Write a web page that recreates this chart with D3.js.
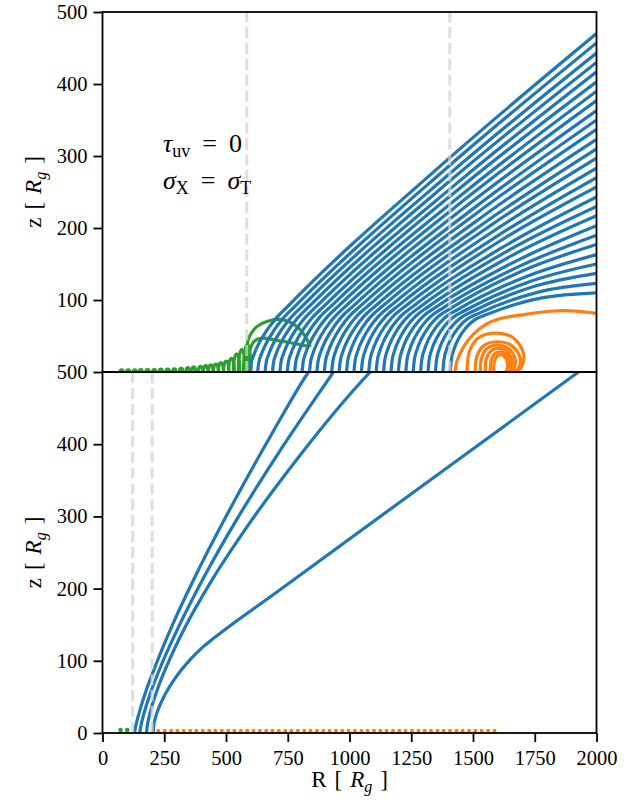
<!DOCTYPE html>
<html><head><meta charset="utf-8">
<script src="https://cdn.jsdelivr.net/npm/d3@7"></script>
<style>
body{margin:0;background:#fff}
svg{display:block}
text{font-family:"Liberation Serif","DejaVu Serif",serif;fill:#000;white-space:pre}
</style>
</head><body>
<svg id="c" width="643" height="806"></svg>
<script>
// ---------------- data ----------------
const xTicks = [0,250,500,750,1000,1250,1500,1750,2000];
const yTicksTop = [100,200,300,400,500];
const yTicksBottom = [0,100,200,300,400,500];
const dashedTopR = [584, 1406];
const dashedBottomR = [122, 201];

// top panel: escaping streamlines (blue), points [R, z]
const topWindLines = [
 [[598,0],[602,11.5],[613,24.1],[633,39.5],[663,56.8],[698,72.7],[748,90.5],[1374,288],[2000,470]],
 [[628,0],[632,11.7],[643,24.5],[663,40],[693,57.3],[728,73.3],[778,90.8],[1389,282],[2000,457]],
 [[658,0],[662,11.9],[673,24.8],[693,40.4],[723,57.8],[758,73.7],[808,91.2],[1404,275],[2000,443]],
 [[688,0],[692,12.1],[703,25.2],[723,40.9],[753,58.3],[788,74.2],[838,91.5],[1419,269],[2000,430]],
 [[718,0],[722,12.3],[733,25.5],[753,41.4],[783,58.8],[818,74.6],[868,91.8],[1434,262],[2000,417]],
 [[748,0],[752,12.5],[763,25.8],[783,41.7],[813,59.2],[848,75],[898,91.9],[1449,256],[2000,403]],
 [[778,0],[782,12.7],[793,26.3],[813,42.2],[843,59.8],[878,75.5],[928,92.3],[1464,249],[2000,390]],
 [[808,0],[812,12.9],[823,26.6],[843,42.7],[873,60.2],[908,75.9],[958,92.5],[1479,243],[2000,377]],
 [[838,0],[842,13.1],[853,26.8],[873,43],[903,60.6],[938,76.1],[988,92.5],[1494,236],[2000,363]],
 [[868,0],[872,13.2],[883,27.1],[903,43.4],[933,60.9],[968,76.5],[1018,92.6],[1509,229],[2000,350]],
 [[898,0],[902,13.4],[913,27.5],[933,43.9],[963,61.4],[998,76.9],[1048,92.8],[1524,223],[2000,337]],
 [[928,0],[932,13.6],[943,27.8],[963,44.1],[993,61.7],[1028,77.1],[1078,92.7],[1539,216],[2000,323]],
 [[958,0],[962,13.8],[973,28.2],[993,44.5],[1023,62],[1058,77.3],[1108,92.7],[1554,209],[2000,310]],
 [[988,0],[992,14],[1003,28.5],[1023,44.9],[1053,62.4],[1088,77.5],[1138,92.6],[1569,203],[2000,297]],
 [[1018,0],[1022,14.2],[1033,28.7],[1053,45.2],[1083,62.7],[1118,77.6],[1168,92.4],[1584,196],[2000,283]],
 [[1048,0],[1052,14.4],[1063,29],[1083,45.6],[1113,62.9],[1148,77.7],[1198,92.2],[1599,189],[2000,270]],
 [[1078,0],[1082,14.6],[1093,29.3],[1113,45.9],[1143,63.2],[1178,77.8],[1228,91.9],[1614,183],[2000,257]],
 [[1108,0],[1112,14.7],[1123,29.6],[1143,46.2],[1173,63.3],[1208,77.6],[1258,91.4],[1629,175],[2000,243]],
 [[1138,0],[1142,14.9],[1153,29.8],[1173,46.4],[1203,63.5],[1238,77.7],[1288,91],[1644,169],[2000,230]],
 [[1168,0],[1172,15],[1183,30.1],[1203,46.7],[1233,63.7],[1268,77.6],[1318,90.4],[1659,162],[2000,217]],
 [[1198,0],[1202,15.2],[1213,30.3],[1233,46.9],[1263,63.6],[1298,77.3],[1348,89.6],[1674,154],[2000,203]],
 [[1228,0],[1232,15.4],[1243,30.5],[1263,47],[1293,63.7],[1328,77],[1378,88.8],[1689,147],[2000,190]],
 [[1258,0],[1262,15.6],[1273,30.8],[1293,47.3],[1323,63.7],[1358,76.7],[1408,88],[1704,141],[2000,177]],
 [[1288,0],[1292,15.7],[1303,30.9],[1323,47.4],[1353,63.4],[1388,76.1],[1438,86.7],[1719,133],[2000,163]],
 [[1318,0],[1322,15.9],[1333,31.1],[1353,47.3],[1383,63.3],[1418,75.5],[1468,85.4],[1734,126],[2000,150]],
 [[1348,0],[1352,16],[1363,31.3],[1383,47.4],[1413,63],[1448,74.8],[1498,84],[1749,119],[2000,137]],
 [[1378,0],[1382,16.1],[1393,31.4],[1413,47.4],[1443,62.5],[1478,73.9],[1528,82.1],[1764,111],[2000,123]],
 [[1408,0],[1412,16.3],[1423,31.5],[1443,47.3],[1473,62.1],[1508,72.8],[1558,80.1],[1779,103],[2000,110]]
];

// top panel: looping trajectories (orange)
const topLoopLines = [
 [[1428,0],[1435,15],[1462,35],[1500,52],[1557,67],[1620,75],[1692,79],[1800,84],[1894,85],[2000,81.5]],
 [[1476,0],[1485,28],[1520,47],[1590,54],[1665,47],[1705,25],[1695,6],[1675,0]],
 [[1509,0],[1516,22],[1545,37],[1600,42],[1655,37],[1692,19],[1684,5],[1668,0]],
 [[1530,0],[1535,20],[1558,33],[1600,37.5],[1642,33],[1671,17],[1664,4],[1652,0]],
 [[1550,0],[1554,18],[1572,29],[1604,33],[1636,29],[1658,15],[1652,4],[1643,0]],
 [[1570,0],[1573,15],[1586,25],[1609,28],[1632,25],[1648,13],[1644,3],[1637,0]],
 [[1584,0],[1586,13],[1595,21],[1612,24],[1629,21],[1640,11],[1637,3],[1632,0]]
];

// top panel: failed trajectories (green) -- small bumps and two larger arcs
const greenBumpR = [71,98,125,149,176,203,230,257,284,311,338,361,388,409,429,449,469,490,510,530,550,571];
const greenBumpH = [3,3,3,3.5,3.5,3.5,4,4,4.5,5,6,7,8,9,10,11,13,15,19,25,31,38];
const greenBumpW = [12,12,12,12,13,13,13,14,14,15,15,16,17,18,19,20,21,22,24,26,28,30];
const greenArcs = [
 [[584,0],[583,25],[592,47],[625,63],[665,70],[720,73],[780,65],[820,50],[841,35]],
 [[590,0],[595,28],[612,42],[645,47],[706,44],[770,40],[830,36]]
];

// bottom panel: escaping streamlines (blue)
const bottomWindLines = [
 [[130,0],[132,4.9],[138,14.5],[150,30],[175,57],[220,98],[290,155],[390,227],[530,319],[680,411],[834,500],[850,508]],
 [[151,0],[153,5.3],[159,15.3],[171,30.8],[196,57],[241,96.5],[311,149],[411,216],[551,300],[711,387],[935,500],[951,508]],
 [[178,0],[180,6.9],[186,18.2],[198,34.6],[223,61],[268,99],[338,149],[438,209],[578,282],[778,375],[1084,500],[1098,505]],
 [[205,0],[207,9.3],[213,19.6],[225,32.4],[250,51.3],[295,76.3],[355,101.7],[405,118.6],[455,132.5],[705,195],[1205,320],[1927,500],[1955,507]]
];
const bottomGreenDotsR = [73,100];
const bottomOrangeDotsR = [226,252,278,303,329,355,380,406,432,457,483,509,534,560,586,611,637,663,688,714,740,765,791,817,842,868,894,919,945,971,996,1022,1048,1073,1099,1125,1150,1176,1202,1227,1253,1279,1304,1330,1356,1381,1407,1433,1458,1484,1510,1535,1561,1587];

// ---------------- drawing ----------------
const C = {blue:"#1f77b4", orange:"#ff7f0e", green:"#2ca02c"};
const LW = 3.2;
const svg = d3.select("#c");
const x = d3.scaleLinear().domain([0,2000]).range([102.5,596.5]);
const yT = d3.scaleLinear().domain([0,500]).range([372,12]);
const yB = d3.scaleLinear().domain([0,500]).range([733,372]);

const defs = svg.append("defs");
defs.append("clipPath").attr("id","clipT").append("rect")
  .attr("x",x(0)).attr("y",yT(500)).attr("width",x(2000)-x(0)).attr("height",yT(0)-yT(500));
defs.append("clipPath").attr("id","clipB").append("rect")
  .attr("x",x(0)).attr("y",yB(500)).attr("width",x(2000)-x(0)).attr("height",yB(0)-yB(500));

const gT = svg.append("g").attr("clip-path","url(#clipT)");
const gB = svg.append("g").attr("clip-path","url(#clipB)");

const loopLine = ys => d3.line().x(d=>x(d[0])).y(d=>ys(d[1])).curve(d3.curveCatmullRom.alpha(0.5));
const windLine = ys => d3.line().x(d=>x(d[0])).y(d=>ys(d[1])).curve(d3.curveMonotoneX);

function bumpPath(R, w, h, ys){
  const p = d3.path();
  p.moveTo(x(R), ys(0));
  p.bezierCurveTo(x(R), ys(h*4/3), x(R+w), ys(h*4/3), x(R+w), ys(0));
  return p.toString();
}

// green (top)
gT.selectAll(".gb").data(greenBumpR).join("path")
  .attr("d",(R,i)=>bumpPath(R, greenBumpW[i], greenBumpH[i], yT))
  .attr("fill","none").attr("stroke",C.green).attr("stroke-width",LW);
gT.selectAll(".ga").data(greenArcs).join("path")
  .attr("d",loopLine(yT)).attr("fill","none").attr("stroke",C.green).attr("stroke-width",LW);
// blue (top)
gT.selectAll(".bw").data(topWindLines).join("path")
  .attr("d",windLine(yT)).attr("fill","none").attr("stroke",C.blue).attr("stroke-width",LW);
// orange (top)
gT.selectAll(".ol").data(topLoopLines).join("path")
  .attr("d",loopLine(yT)).attr("fill","none").attr("stroke",C.orange).attr("stroke-width",LW);
// dashed (top)
gT.selectAll(".dt").data(dashedTopR).join("line")
  .attr("x1",d=>x(d)).attr("x2",d=>x(d)).attr("y1",yT(0)).attr("y2",yT(500))
  .attr("stroke","rgb(211,211,211)").attr("stroke-opacity",0.75).attr("stroke-width",3)
  .attr("stroke-dasharray","11.1,4.8");

// bottom panel
gB.selectAll(".bb").data(bottomWindLines).join("path")
  .attr("d",windLine(yB)).attr("fill","none").attr("stroke",C.blue).attr("stroke-width",LW);
gB.selectAll(".od").data(bottomOrangeDotsR).join("circle")
  .attr("cx",d=>x(d)).attr("cy",yB(3)).attr("r",2).attr("fill",C.orange);
gB.selectAll(".gd").data(bottomGreenDotsR).join("circle")
  .attr("cx",d=>x(d)).attr("cy",yB(4)).attr("r",2.3).attr("fill",C.green);
gB.selectAll(".db").data(dashedBottomR).join("line")
  .attr("x1",d=>x(d)).attr("x2",d=>x(d)).attr("y1",yB(0)).attr("y2",yB(500))
  .attr("stroke","rgb(211,211,211)").attr("stroke-opacity",0.75).attr("stroke-width",3)
  .attr("stroke-dasharray","11.1,4.8");

// axes
const FS = 20.5;
function styleAxis(g){
  g.select(".domain").remove();
  g.selectAll(".tick line").attr("stroke","#000").attr("stroke-width",1.8);
  g.selectAll(".tick text").attr("font-size",FS).attr("font-family",'"Liberation Serif","DejaVu Serif",serif').attr("fill","#000");
}
svg.append("g").attr("transform",`translate(${x(0)},0)`)
  .call(d3.axisLeft(yT).tickValues(yTicksTop).tickSize(9).tickPadding(6).tickFormat(d3.format("d")))
  .call(styleAxis);
svg.append("g").attr("transform",`translate(${x(0)},0)`)
  .call(d3.axisLeft(yB).tickValues(yTicksBottom).tickSize(9).tickPadding(6).tickFormat(d3.format("d")))
  .call(styleAxis);
svg.append("g").attr("transform",`translate(0,${yB(0)})`)
  .call(d3.axisBottom(x).tickValues(xTicks).tickSize(9).tickPadding(8.5).tickFormat(d3.format("d")))
  .call(styleAxis);

// spines
[[yT(500),yT(0)],[yB(500),yB(0)]].forEach(([t,b])=>{
  svg.append("rect").attr("x",x(0)).attr("y",t).attr("width",x(2000)-x(0)).attr("height",b-t)
    .attr("fill","none").attr("stroke","#000").attr("stroke-width",1.8);
});

// axis labels
const LFS = 23;
function rLabel(sel, first){
  sel.append("tspan").text(first);
  sel.append("tspan").attr("dx",8).text("[");
  sel.append("tspan").attr("dx",8).attr("font-style","italic").text("R");
  sel.append("tspan").attr("font-style","italic").attr("font-size",16).attr("dy",5).text("g");
  sel.append("tspan").attr("dx",8).attr("dy",-5).text("]");
}
svg.append("text").attr("x",(x(0)+x(2000))/2).attr("y",787).attr("text-anchor","middle")
  .attr("font-size",LFS).call(rLabel,"R");
[(yT(0)+yT(500))/2,(yB(0)+yB(500))/2].forEach(cy=>{
  svg.append("text").attr("transform",`translate(41,${cy}) rotate(-90)`).attr("text-anchor","middle")
    .attr("font-size",LFS).call(rLabel,"z");
});

// annotation
const a1 = svg.append("text").attr("x",163).attr("y",152).attr("font-size",26);
a1.append("tspan").attr("font-style","italic").text("τ");
a1.append("tspan").attr("font-size",18).attr("dy",5).text("uv");
a1.append("tspan").attr("dy",-5).attr("dx",12).text("=");
a1.append("tspan").attr("dx",12).text("0");
const a2 = svg.append("text").attr("x",163).attr("y",189).attr("font-size",26);
a2.append("tspan").attr("font-style","italic").text("σ");
a2.append("tspan").attr("font-size",18).attr("dy",5).text("X");
a2.append("tspan").attr("dy",-5).attr("dx",12).text("=");
a2.append("tspan").attr("dx",12).attr("font-style","italic").text("σ");
a2.append("tspan").attr("font-size",18).attr("dy",5).text("T");
</script>
</body></html>
